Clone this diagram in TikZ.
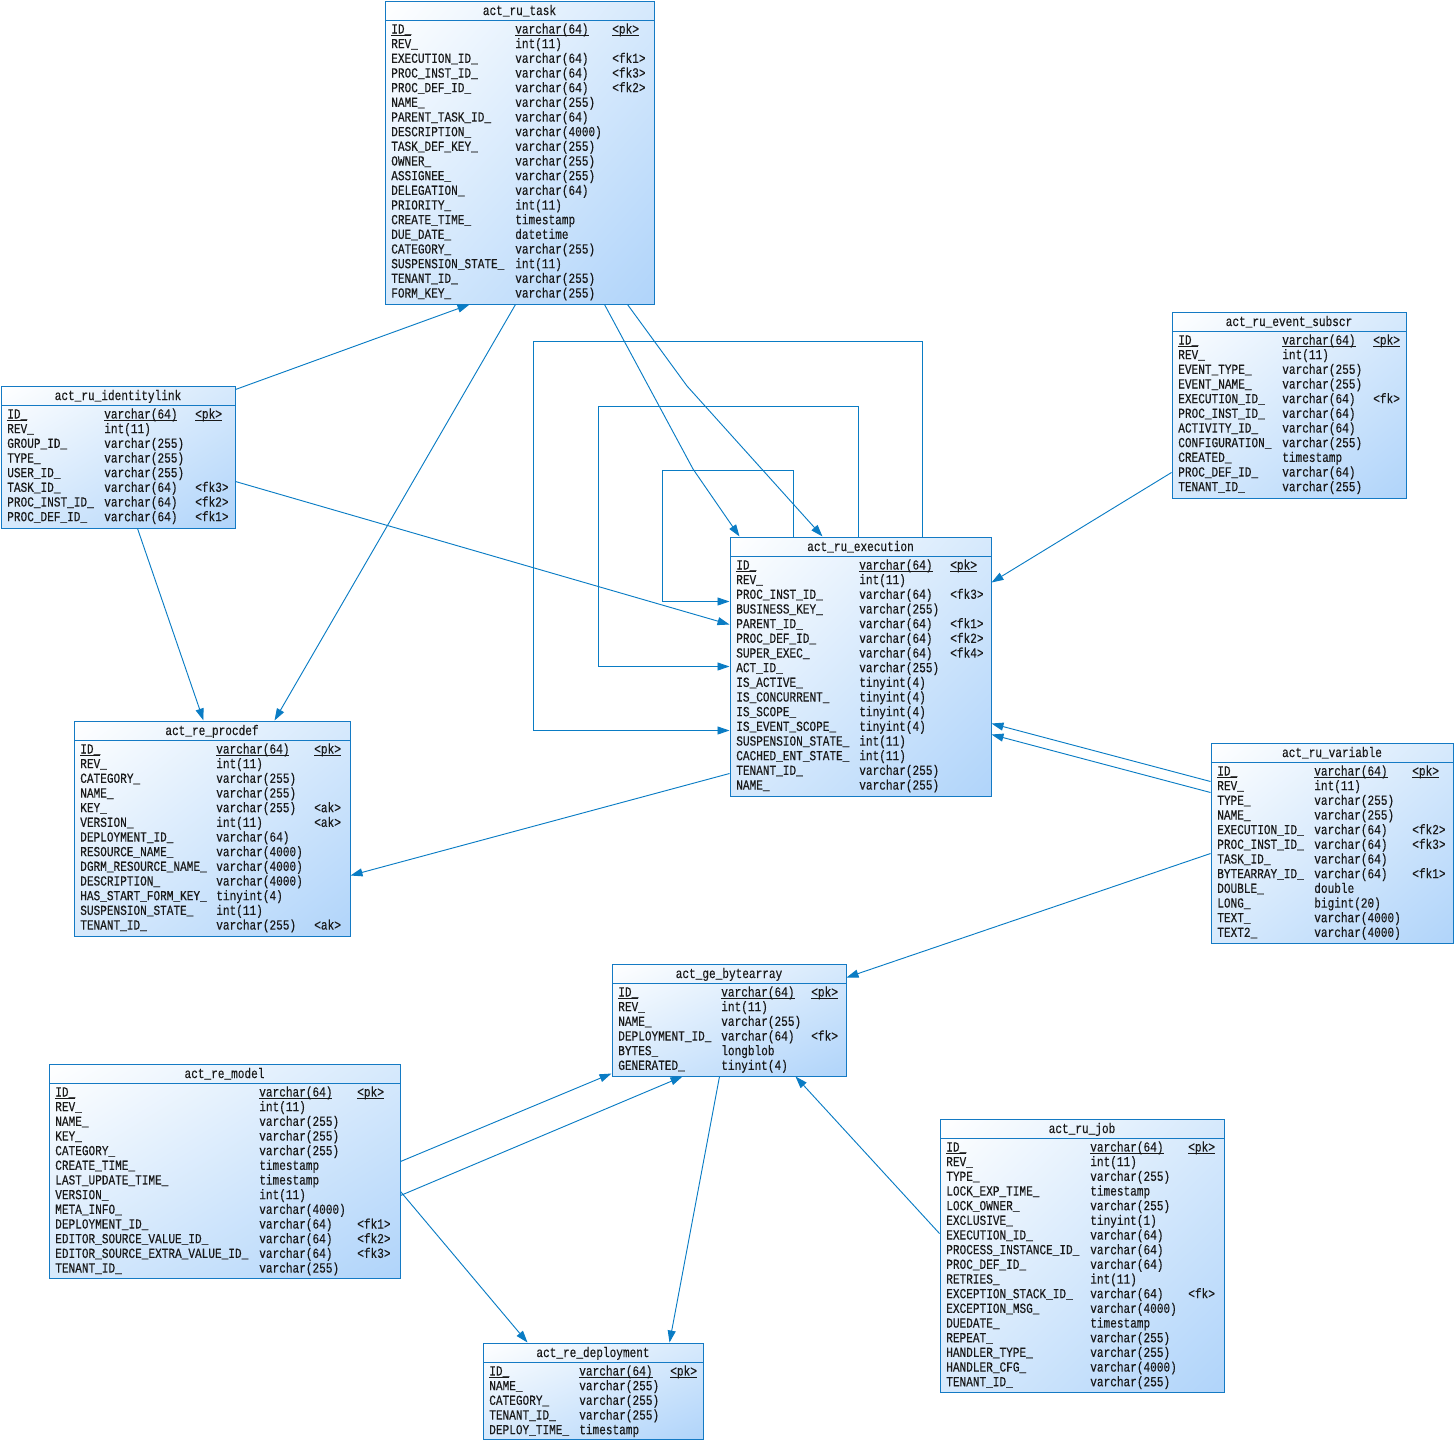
\documentclass[tikz,border=0pt]{standalone}
\usepackage{fontspec}
\setmonofont[FakeStretch=0.8,FakeBold=0.3]{Liberation Mono}
\usetikzlibrary{arrows.meta,calc,fit,shadings}

\definecolor{tblblue}{RGB}{20,122,196}
\definecolor{tblmid}{RGB}{214,233,252}
\definecolor{tblend}{RGB}{176,212,250}
\definecolor{linkblue}{RGB}{10,124,196}

\tikzset{
  tbl/.style={draw=tblblue, line width=0.75pt, inner sep=0pt,
    upper left=white, upper right=tblmid, lower left=tblmid, lower right=tblend},
  cell/.style={anchor=base west, inner sep=0pt, text=black!90,
    font=\ttfamily\fontsize{10.4}{12}\selectfont},
  ttl/.style={anchor=base, inner sep=0pt, text=black!90,
    font=\ttfamily\fontsize{10.4}{12}\selectfont},
  fk/.style={draw=linkblue, line width=0.7pt, -{Triangle[length=9pt,width=6pt]}}
}

\newcommand\keyline[1]{\underline{\smash{#1}}}

% name, x1, y1, x2, y2, title, type column, key column, rows
\newcommand\dbtable[9]{%
  \node[tbl, fit={(#2,#3) (#4,#5)}] (#1) {};
  \draw[draw=tblblue, line width=0.75pt] (#2,#3+19) -- (#4,#3+19);
  \node[ttl] (#1-title) at ({(#2+#4)/2},#3+14) {#6};
  \node[cell] (#1-n1) at (#2+6,#3+32.5) {\keyline{ID\_}};
  \node[cell] (#1-t1) at (#2+#7,#3+32.5) {\keyline{varchar(64)}};
  \node[cell] (#1-k1) at (#2+#8,#3+32.5) {\keyline{<pk>}};
  \foreach \a/\b/\c [count=\i from 2] in {#9} {
    \node[cell] (#1-n\i) at (#2+6,{#3+32.5+14.67*(\i-1)}) {\a};
    \node[cell] (#1-t\i) at (#2+#7,{#3+32.5+14.67*(\i-1)}) {\b};
    \node[cell] (#1-k\i) at (#2+#8,{#3+32.5+14.67*(\i-1)}) {\c};
  }%
}

\begin{document}
\begin{tikzpicture}[x=0.75pt, y=-0.75pt]
\useasboundingbox (0,0) rectangle (1456,1443);

\dbtable{task}{385}{1}{654}{304}{act\_ru\_task}{130}{227}{
  REV\_/int(11)/{}, EXECUTION\_ID\_/varchar(64)/<fk1>, PROC\_INST\_ID\_/varchar(64)/<fk3>,
  PROC\_DEF\_ID\_/varchar(64)/<fk2>, NAME\_/varchar(255)/{}, PARENT\_TASK\_ID\_/varchar(64)/{},
  DESCRIPTION\_/varchar(4000)/{}, TASK\_DEF\_KEY\_/varchar(255)/{}, OWNER\_/varchar(255)/{},
  ASSIGNEE\_/varchar(255)/{}, DELEGATION\_/varchar(64)/{}, PRIORITY\_/int(11)/{},
  CREATE\_TIME\_/timestamp/{}, DUE\_DATE\_/datetime/{}, CATEGORY\_/varchar(255)/{},
  SUSPENSION\_STATE\_/int(11)/{}, TENANT\_ID\_/varchar(255)/{}, FORM\_KEY\_/varchar(255)/{}}

\dbtable{ilink}{1}{386}{235}{528}{act\_ru\_identitylink}{103}{194}{
  REV\_/int(11)/{}, GROUP\_ID\_/varchar(255)/{}, TYPE\_/varchar(255)/{},
  USER\_ID\_/varchar(255)/{}, TASK\_ID\_/varchar(64)/<fk3>, PROC\_INST\_ID\_/varchar(64)/<fk2>,
  PROC\_DEF\_ID\_/varchar(64)/<fk1>}

\dbtable{evsub}{1172}{312}{1406}{498}{act\_ru\_event\_subscr}{110}{201}{
  REV\_/int(11)/{}, EVENT\_TYPE\_/varchar(255)/{}, EVENT\_NAME\_/varchar(255)/{},
  EXECUTION\_ID\_/varchar(64)/<fk>, PROC\_INST\_ID\_/varchar(64)/{}, ACTIVITY\_ID\_/varchar(64)/{},
  CONFIGURATION\_/varchar(255)/{}, CREATED\_/timestamp/{}, PROC\_DEF\_ID\_/varchar(64)/{},
  TENANT\_ID\_/varchar(255)/{}}

\dbtable{exec}{730}{537}{991}{796}{act\_ru\_execution}{129}{220}{
  REV\_/int(11)/{}, PROC\_INST\_ID\_/varchar(64)/<fk3>, BUSINESS\_KEY\_/varchar(255)/{},
  PARENT\_ID\_/varchar(64)/<fk1>, PROC\_DEF\_ID\_/varchar(64)/<fk2>, SUPER\_EXEC\_/varchar(64)/<fk4>,
  ACT\_ID\_/varchar(255)/{}, IS\_ACTIVE\_/tinyint(4)/{}, IS\_CONCURRENT\_/tinyint(4)/{},
  IS\_SCOPE\_/tinyint(4)/{}, IS\_EVENT\_SCOPE\_/tinyint(4)/{}, SUSPENSION\_STATE\_/int(11)/{},
  CACHED\_ENT\_STATE\_/int(11)/{}, TENANT\_ID\_/varchar(255)/{}, NAME\_/varchar(255)/{}}

\dbtable{procdef}{74}{721}{350}{936}{act\_re\_procdef}{142}{240}{
  REV\_/int(11)/{}, CATEGORY\_/varchar(255)/{}, NAME\_/varchar(255)/{},
  KEY\_/varchar(255)/<ak>, VERSION\_/int(11)/<ak>, DEPLOYMENT\_ID\_/varchar(64)/{},
  RESOURCE\_NAME\_/varchar(4000)/{}, DGRM\_RESOURCE\_NAME\_/varchar(4000)/{},
  DESCRIPTION\_/varchar(4000)/{}, HAS\_START\_FORM\_KEY\_/tinyint(4)/{},
  SUSPENSION\_STATE\_/int(11)/{}, TENANT\_ID\_/varchar(255)/<ak>}

\dbtable{var}{1211}{743}{1453}{943}{act\_ru\_variable}{103}{201}{
  REV\_/int(11)/{}, TYPE\_/varchar(255)/{}, NAME\_/varchar(255)/{},
  EXECUTION\_ID\_/varchar(64)/<fk2>, PROC\_INST\_ID\_/varchar(64)/<fk3>, TASK\_ID\_/varchar(64)/{},
  BYTEARRAY\_ID\_/varchar(64)/<fk1>, DOUBLE\_/double/{}, LONG\_/bigint(20)/{},
  TEXT\_/varchar(4000)/{}, TEXT2\_/varchar(4000)/{}}

\dbtable{bytes}{612}{964}{846}{1076}{act\_ge\_bytearray}{109}{199}{
  REV\_/int(11)/{}, NAME\_/varchar(255)/{}, DEPLOYMENT\_ID\_/varchar(64)/<fk>,
  BYTES\_/longblob/{}, GENERATED\_/tinyint(4)/{}}

\dbtable{model}{49}{1064}{400}{1278}{act\_re\_model}{210}{308}{
  REV\_/int(11)/{}, NAME\_/varchar(255)/{}, KEY\_/varchar(255)/{},
  CATEGORY\_/varchar(255)/{}, CREATE\_TIME\_/timestamp/{}, LAST\_UPDATE\_TIME\_/timestamp/{},
  VERSION\_/int(11)/{}, META\_INFO\_/varchar(4000)/{}, DEPLOYMENT\_ID\_/varchar(64)/<fk1>,
  EDITOR\_SOURCE\_VALUE\_ID\_/varchar(64)/<fk2>, EDITOR\_SOURCE\_EXTRA\_VALUE\_ID\_/varchar(64)/<fk3>,
  TENANT\_ID\_/varchar(255)/{}}

\dbtable{job}{940}{1119}{1224}{1392}{act\_ru\_job}{150}{248}{
  REV\_/int(11)/{}, TYPE\_/varchar(255)/{}, LOCK\_EXP\_TIME\_/timestamp/{},
  LOCK\_OWNER\_/varchar(255)/{}, EXCLUSIVE\_/tinyint(1)/{}, EXECUTION\_ID\_/varchar(64)/{},
  PROCESS\_INSTANCE\_ID\_/varchar(64)/{}, PROC\_DEF\_ID\_/varchar(64)/{}, RETRIES\_/int(11)/{},
  EXCEPTION\_STACK\_ID\_/varchar(64)/<fk>, EXCEPTION\_MSG\_/varchar(4000)/{},
  DUEDATE\_/timestamp/{}, REPEAT\_/varchar(255)/{}, HANDLER\_TYPE\_/varchar(255)/{},
  HANDLER\_CFG\_/varchar(4000)/{}, TENANT\_ID\_/varchar(255)/{}}

\dbtable{deploy}{483}{1343}{703}{1439}{act\_re\_deployment}{96}{187}{
  NAME\_/varchar(255)/{}, CATEGORY\_/varchar(255)/{}, TENANT\_ID\_/varchar(255)/{},
  DEPLOY\_TIME\_/timestamp/{}}

\draw[fk] ($(ilink.north east)+(0,4)$) -- ($(task.south west)+(85,0)$);
\draw[fk] ($(task.south west)+(131,0)$) -- ($(procdef.north west)+(201,0)$);
\draw[fk] ($(ilink.south west)+(137,0)$) -- ($(procdef.north west)+(130,0)$);
\draw[fk] ($(ilink.north east)+(0,96)$) -- ($(exec.north west)+(0,88)$);
\draw[fk] ($(task.south west)+(220,0)$) -- (693,469) -- ($(exec.north west)+(10,0)$);
\draw[fk] ($(task.south west)+(243,0)$) -- (687,386) -- ($(exec.north west)+(93,0)$);

\draw[fk] ($(exec.north west)+(64,0)$) |- ($(exec.north west)+(-67,-66)$) |- ($(exec.north west)+(0,65)$);
\draw[fk] ($(exec.north west)+(129,0)$) |- ($(exec.north west)+(-131,-130)$) |- ($(exec.north west)+(0,130)$);
\draw[fk] ($(exec.north west)+(193,0)$) |- ($(exec.north west)+(-196,-195)$) |- ($(exec.north west)+(0,194)$);

\draw[fk] ($(exec.south west)+(0,-23)$) -- ($(procdef.north east)+(0,155)$);
\draw[fk] ($(evsub.north west)+(0,161)$) -- ($(exec.north east)+(0,46)$);
\draw[fk] ($(var.north west)+(0,39)$) -- ($(exec.north east)+(0,187)$);
\draw[fk] ($(var.north west)+(0,50)$) -- ($(exec.north east)+(0,198)$);
\draw[fk] ($(var.north west)+(0,111)$) -- ($(bytes.north east)+(0,14)$);

\draw[fk] ($(model.north east)+(0,98)$) -- ($(bytes.south west)+(0,-3)$);
\draw[fk] ($(model.north east)+(0,132)$) -- ($(bytes.south west)+(71,0)$);
\draw[fk] ($(model.north east)+(0,128)$) -- ($(deploy.north west)+(45,0)$);
\draw[fk] ($(bytes.south west)+(108,0)$) -- ($(deploy.north west)+(187,0)$);
\draw[fk] ($(job.north west)+(0,115)$) -- ($(bytes.south west)+(184,0)$);

\end{tikzpicture}
\end{document}
